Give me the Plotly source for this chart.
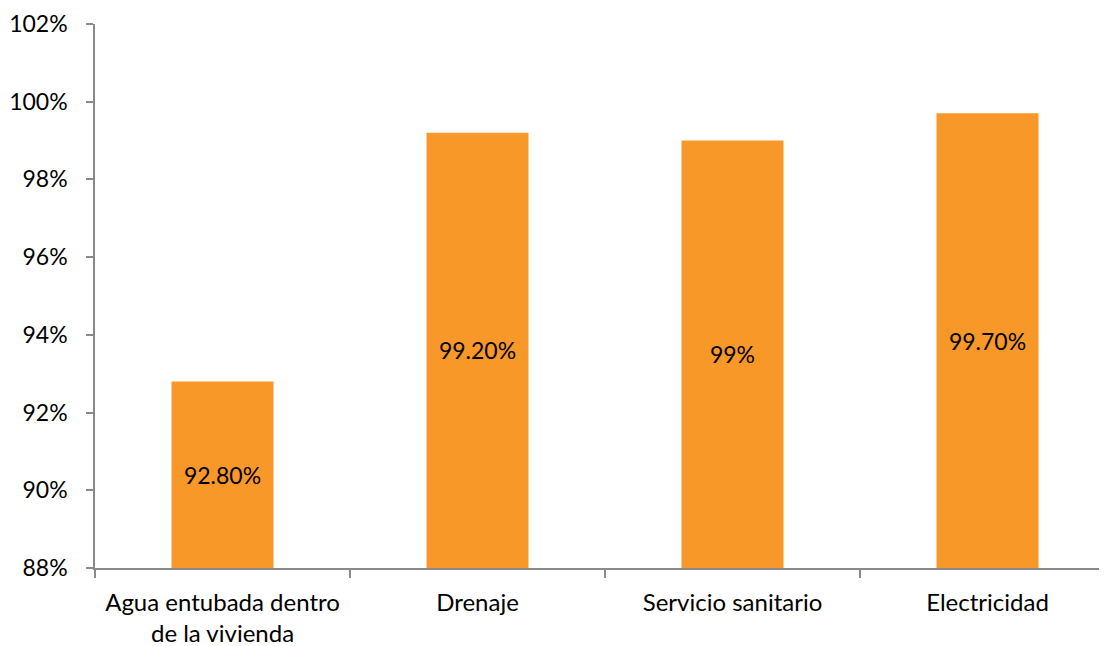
import plotly.graph_objects as go

categories = ["Agua entubada dentro<br>de la vivienda", "Drenaje", "Servicio sanitario", "Electricidad"]
values = [92.8, 99.2, 99.0, 99.7]
labels = ["92.80%", "99.20%", "99%", "99.70%"]
axis_min = 88
y_ticks = [88, 90, 92, 94, 96, 98, 100, 102]
y_tick_labels = ["88%", "90%", "92%", "94%", "96%", "98%", "100%", "102%"]

FONT = "Lato, Calibri, Carlito, sans-serif"

fig = go.Figure(go.Bar(
    x=categories,
    y=[v - axis_min for v in values],
    base=axis_min,
    text=labels,
    textposition="inside",
    insidetextanchor="middle",
    textangle=0,
    textfont=dict(family=FONT, size=23, color="#000000"),
    marker=dict(color="#F89829", line=dict(width=0)),
    width=0.4,
))

fig.update_layout(
    width=1107,
    height=646,
    margin=dict(l=87, r=0, t=16, b=86),
    plot_bgcolor="white",
    paper_bgcolor="white",
    showlegend=False,
    font=dict(family=FONT, size=23, color="#000000"),
    xaxis=dict(
        type="category",
        range=[-0.5, 3.5],
        showline=True,
        linecolor="#898989",
        linewidth=1.5,
        ticks="outside",
        tickson="boundaries",
        ticklen=8,
        tickcolor="#898989",
        tickwidth=1.5,
        showgrid=False,
        ticklabelstandoff=12,
        tickfont=dict(family=FONT, size=24, color="#000000"),
    ),
    yaxis=dict(
        range=[88, 102],
        tickvals=y_ticks,
        ticktext=y_tick_labels,
        showline=True,
        linecolor="#898989",
        linewidth=1.5,
        ticks="outside",
        ticklen=7,
        tickcolor="#898989",
        tickwidth=1.5,
        showgrid=False,
        zeroline=False,
        ticklabelstandoff=14,
        tickfont=dict(family=FONT, size=23, color="#000000"),
    ),
)

fig.write_html("out.html")
